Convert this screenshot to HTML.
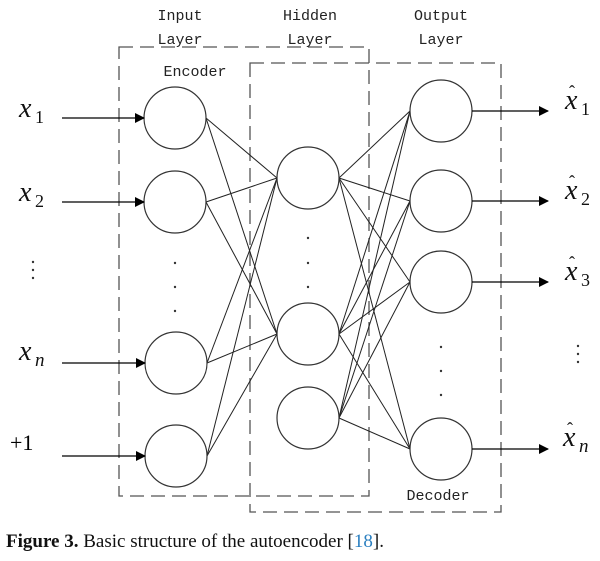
<!DOCTYPE html>
<html><head><meta charset="utf-8"><style>
body{margin:0;background:#fff;width:600px;height:561px;overflow:hidden}
svg{display:block}
.l{font-family:"WenQuanYi Zen Hei","Liberation Mono",monospace;font-size:15px;fill:#222}
.m{font-family:"Liberation Serif",serif;font-style:italic;font-size:28px;fill:#111}
.s{font-family:"Liberation Serif",serif;font-size:18px;fill:#111}
.si{font-family:"Liberation Serif",serif;font-style:italic;font-size:19px;fill:#111}
.h{font-family:"Liberation Serif",serif;font-size:18px;fill:#111}
</style></head><body>
<svg width="600" height="561" viewBox="0 0 600 561" xmlns="http://www.w3.org/2000/svg">
<defs><marker id="a" markerWidth="10" markerHeight="10" refX="9" refY="5" orient="auto" markerUnits="userSpaceOnUse"><path d="M0,0 L10,5 L0,10 z" fill="#000"/></marker></defs>
<g fill="none" stroke="#555" stroke-width="1.3" stroke-dasharray="14,7">
<rect x="119" y="47" width="250" height="449"/>
<rect x="250" y="63" width="251" height="449"/>
</g>
<g stroke="#222" stroke-width="1" fill="none">
<line x1="206" y1="118" x2="277" y2="178"/><line x1="206" y1="118" x2="277" y2="334"/>
<line x1="206" y1="202" x2="277" y2="178"/><line x1="206" y1="202" x2="277" y2="334"/>
<line x1="207" y1="363" x2="277" y2="178"/><line x1="207" y1="363" x2="277" y2="334"/>
<line x1="207" y1="456" x2="277" y2="178"/><line x1="207" y1="456" x2="277" y2="334"/>
<line x1="339" y1="178" x2="410" y2="111"/><line x1="339" y1="178" x2="410" y2="201"/><line x1="339" y1="178" x2="410" y2="282"/><line x1="339" y1="178" x2="410" y2="449"/>
<line x1="339" y1="334" x2="410" y2="111"/><line x1="339" y1="334" x2="410" y2="201"/><line x1="339" y1="334" x2="410" y2="282"/><line x1="339" y1="334" x2="410" y2="449"/>
<line x1="339" y1="418" x2="410" y2="111"/><line x1="339" y1="418" x2="410" y2="201"/><line x1="339" y1="418" x2="410" y2="282"/><line x1="339" y1="418" x2="410" y2="449"/>
</g>
<g stroke="#333" stroke-width="1.2" fill="#fff">
<circle cx="175" cy="118" r="31"/><circle cx="175" cy="202" r="31"/><circle cx="176" cy="363" r="31"/><circle cx="176" cy="456" r="31"/>
<circle cx="308" cy="178" r="31"/><circle cx="308" cy="334" r="31"/><circle cx="308" cy="418" r="31"/>
<circle cx="441" cy="111" r="31"/><circle cx="441" cy="201" r="31"/><circle cx="441" cy="282" r="31"/><circle cx="441" cy="449" r="31"/>
</g>
<g stroke="#000" stroke-width="1.2" marker-end="url(#a)">
<line x1="62" y1="118" x2="144" y2="118"/><line x1="62" y1="202" x2="144" y2="202"/>
<line x1="62" y1="363" x2="145" y2="363"/><line x1="62" y1="456" x2="145" y2="456"/>
<line x1="472" y1="111" x2="548" y2="111"/><line x1="472" y1="201" x2="548" y2="201"/>
<line x1="472" y1="282" x2="548" y2="282"/><line x1="472" y1="449" x2="548" y2="449"/>
</g>
<g fill="#333">
<circle cx="175" cy="263" r="1.2"/><circle cx="175" cy="287" r="1.2"/><circle cx="175" cy="311" r="1.2"/>
<circle cx="308" cy="238" r="1.2"/><circle cx="308" cy="263" r="1.2"/><circle cx="308" cy="287" r="1.2"/>
<circle cx="441" cy="347" r="1.2"/><circle cx="441" cy="371" r="1.2"/><circle cx="441" cy="395" r="1.2"/>
<circle cx="33" cy="262" r="1.2"/><circle cx="33" cy="270" r="1.2"/><circle cx="33" cy="278" r="1.2"/>
<circle cx="578" cy="346" r="1.2"/><circle cx="578" cy="354" r="1.2"/><circle cx="578" cy="362" r="1.2"/>
</g>
<g class="l" text-anchor="middle">
<text x="180" y="20">Input</text><text x="180" y="44">Layer</text>
<text x="310" y="20">Hidden</text><text x="310" y="44">Layer</text>
<text x="441" y="20">Output</text><text x="441" y="44">Layer</text>
<text x="195" y="76">Encoder</text>
<text x="438" y="500">Decoder</text>
</g>
<text class="m" x="19" y="117">x</text><text class="s" x="35" y="123">1</text>
<text class="m" x="19" y="201">x</text><text class="s" x="35" y="207">2</text>
<text class="m" x="19" y="360">x</text><text class="si" x="35" y="366">n</text>
<text x="10" y="450" style="font-family:'Liberation Serif',serif;font-size:22px">+1</text>
<text class="m" x="565" y="109">x</text><text class="s" x="581" y="115">1</text><text class="h" x="569" y="98">ˆ</text>
<text class="m" x="565" y="199">x</text><text class="s" x="581" y="205">2</text><text class="h" x="569" y="188">ˆ</text>
<text class="m" x="565" y="280">x</text><text class="s" x="581" y="286">3</text><text class="h" x="569" y="269">ˆ</text>
<text class="m" x="563" y="446">x</text><text class="si" x="579" y="452">n</text><text class="h" x="567" y="435">ˆ</text>
<text x="6" y="547" style="font-family:'Liberation Serif',serif;font-size:19px;fill:#111"><tspan font-weight="bold">Figure 3.</tspan> Basic structure of the autoencoder [<tspan fill="#2a7fc0">18</tspan>].</text>
</svg>
</body></html>
